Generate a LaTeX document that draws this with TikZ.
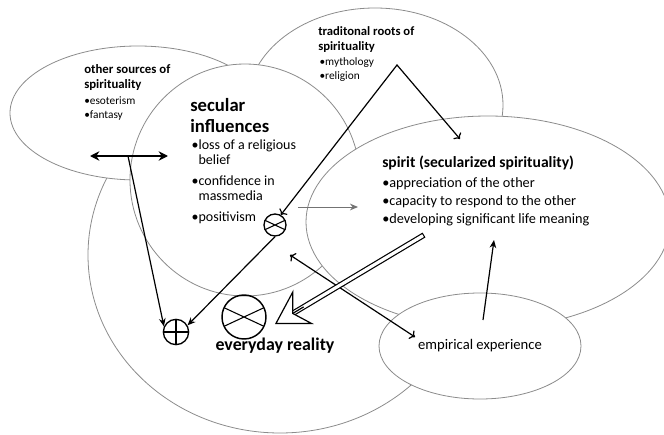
\documentclass[tikz,border=0pt]{standalone}
\usepackage{fontspec}
\setmainfont{Carlito}
\usetikzlibrary{shapes,arrows.meta,positioning,calc}

\newcommand{\setfs}[2]{\fontsize{#1}{#2}\selectfont}

\begin{document}
\begin{tikzpicture}[
    x=0.75pt, y=-0.75pt,
    node distance=3pt,
    blob/.style={ellipse, draw=black!45, line width=0.6pt, fill=white, inner sep=0pt},
    head/.style={align=left, inner sep=0pt, anchor=north west},
    items/.style={align=left, inner sep=0pt},
    arrow/.style={-{Stealth[length=6pt,width=5pt]}, line width=0.9pt},
    otimes/.style={circle, draw, line width=1pt, inner sep=0pt,
        path picture={\draw[line width=0.8pt] (path picture bounding box.155) -- (path picture bounding box.335)
            (path picture bounding box.25) -- (path picture bounding box.205);}},
    oplus/.style={circle, draw, line width=1pt, inner sep=0pt,
        path picture={\draw[line width=0.8pt] (path picture bounding box.north) -- (path picture bounding box.south)
            (path picture bounding box.west) -- (path picture bounding box.east);}},
    bigtip/.style={line width=0.9pt, -{Stealth[open, fill=white, length=25pt, width=30pt, inset=9pt]}}
]
\useasboundingbox (0,0) rectangle (664,435);

% the circles, back to front
\node[blob, minimum width=288pt, minimum height=267pt] (reality) at (280,255) {};
\node[blob, minimum width=192pt, minimum height=145.5pt] (roots) at (375,105) {};
\node[blob, minimum width=192pt, minimum height=100.5pt] (sources) at (138,113) {};
\node[blob, minimum width=172.5pt, minimum height=174pt] (secular) at (245,180) {};
\node[blob, minimum width=273pt, minimum height=159pt] (spirit) at (488,222) {};
\node[blob, minimum width=151.5pt, minimum height=79.5pt, font=\setfs{11}{13}] (empirical) at (480,346) {empirical experience};

% texts
\node[head, font=\bfseries\setfs{9.6}{11.4}] (sourcesT) at (84,64) {other sources of\\spirituality};
\node[items, font=\setfs{8.5}{10.5}, below right=4pt and 0pt of sourcesT.south west] (sourcesL) {•esoterism\\•fantasy};

\node[head, font=\bfseries\setfs{14}{15.8}] (secularT) at (190,98) {secular\\influences};
\node[items, font=\setfs{10.5}{11.3}, below right=5pt and 1pt of secularT.south west] (secularL)
    {•loss of a religious\\\hphantom{•}belief\\[4.5pt]•confidence in\\\hphantom{•}massmedia\\[4.5pt]•positivism};

\node[head, font=\bfseries\setfs{9.5}{11.8}] (rootsT) at (318,26) {traditonal roots of\\spirituality};
\node[items, font=\setfs{8.5}{10.4}, below right=3pt and 1pt of rootsT.south west] (rootsL) {•mythology\\•religion};

\node[head, font=\bfseries\setfs{11.7}{14}] (spiritT) at (382,156) {spirit (secularized spirituality)};
\node[items, font=\setfs{10.7}{13.4}, below right=5pt and 0pt of spiritT.south west] (spiritL)
    {•appreciation of the other\\•capacity to respond to the other\\•developing significant life meaning};

\node[font=\bfseries\setfs{13.4}{15}] (everyday) at (275,346) {everyday reality};

% operators
\node[otimes, minimum size=16.5pt] (xs) at (275,225) {};
\node[otimes, minimum size=33pt, line width=1.1pt] (xb) at (244,317) {};
\node[oplus, minimum size=19pt] (plus) at (176,332) {};

% free ends
\coordinate (osL) at (90,156);
\coordinate (osR) at (168,156);
\coordinate (osM) at (128,156);
\coordinate (peak) at (397,65);
\coordinate (rootsIn) at (460,139);
\coordinate (thinA) at (298,207);
\coordinate (thinB) at (358,207);
\coordinate (bothA) at (290,255);
\coordinate (bothB) at (415,337);
\coordinate (holA) at (424,235);
\coordinate (holB) at (275,324);
\coordinate (empA) at (483,320);
\coordinate (empB) at (494,240);

\draw[arrow, {Stealth[length=7pt,width=7pt]}-{Stealth[length=7pt,width=7pt]}, line width=1.6pt] (osL) -- (osR);
\draw[arrow] (osM) -- (plus.155);
\draw[arrow] (xs.south) -- (plus.30);
\draw[arrow, <->] (xs.60) -- (peak) -- (rootsIn);
\draw[arrow, black!55, line width=0.7pt] (thinA) -- (thinB);
\draw[arrow, <->] (bothA) -- (bothB);
% hollow arrow: shaft in two passes, then the open head
\draw[line width=4.2pt, shorten >=15pt] (holA) -- (holB);
\draw[white, line width=2.4pt, shorten >=14pt, shorten <=0.9pt] (holA) -- (holB);
\draw[bigtip] ($(holB)!25pt!(holA)$) -- (holB);
\draw[arrow] (empA) -- (empB);
\end{tikzpicture}
\end{document}
